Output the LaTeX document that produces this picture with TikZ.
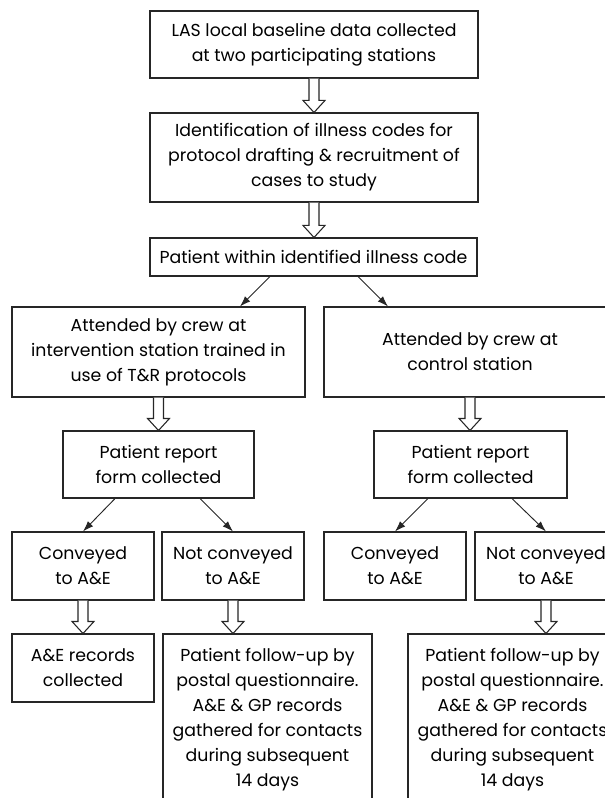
\documentclass[tikz,border=0pt]{standalone}
\usepackage{fontspec}
\setmainfont{Poppins}
\usepackage{tikz}
\usetikzlibrary{arrows.meta,calc}
\newcommand{\hollowdown}[2]{%
  \draw[hollow] ($(#1)+(-5,0)$) -- ($(#2)+(-5,-12)$) -- ($(#2)+(-11,-12)$) -- (#2) -- ($(#2)+(11,-12)$) -- ($(#2)+(5,-12)$) -- ($(#1)+(5,0)$);}

\begin{document}
\begin{tikzpicture}[x=0.75pt,y=-0.75pt,
    box/.style={draw=black!85,line width=0.8pt,align=center,inner sep=0pt,font=\fontsize{13}{18.75}\selectfont},
    hollow/.style={draw=black!85,line width=0.8pt,fill=white},
    conn/.style={draw=black!85,line width=0.7pt,-{Latex[length=8pt,width=5.5pt]}}]
            \useasboundingbox (0,0) rectangle (605,798);
            \clip (0,0) rectangle (605,798);

            \node[box,minimum width=246pt,minimum height=50.25pt] (baseline) at (314,44.5) {LAS local baseline data collected\\at two participating stations};
            \node[box,minimum width=246pt,minimum height=66.75pt] (identify) at (314,157.5) {Identification of illness codes for\\protocol drafting \& recruitment of\\cases to study};
            \node[box,minimum width=245.25pt,minimum height=28.5pt] (patient) at (313.5,257) {Patient within identified illness code};

            \node[box,minimum width=219.75pt,minimum height=67.5pt] (interv) at (158.5,352) {Attended by crew at\\intervention station trained in\\use of T\&R protocols};
            \node[box,minimum width=219pt,minimum height=67.5pt] (control) at (470,352) {Attended by crew at\\control station};

            \node[box,minimum width=143.25pt,minimum height=50.25pt] (reportL) at (158.5,464.5) {Patient report\\form collected};
            \node[box,minimum width=144.75pt,minimum height=50.25pt] (reportR) at (470.5,464.5) {Patient report\\form collected};

            \node[box,minimum width=106.5pt,minimum height=51pt] (convL) at (83,566) {Conveyed\\to A\&E};
            \node[box,minimum width=106.5pt,minimum height=51pt] (notconvL) at (233,566) {Not conveyed\\to A\&E};
            \node[box,minimum width=106.5pt,minimum height=51pt] (convR) at (395,566) {Conveyed\\to A\&E};
            \node[box,minimum width=106.5pt,minimum height=51pt] (notconvR) at (546,566) {Not conveyed\\to A\&E};

            \node[box,minimum width=106.5pt,minimum height=51pt] (recordsL) at (83,668) {A\&E records\\collected};
            \node[box,minimum width=156.75pt,minimum height=128.25pt] (followL) at (267.5,719.5) {Patient follow-up by\\postal questionnaire.\\A\&E \& GP records\\gathered for contacts\\during subsequent\\14 days};
            \node[box,minimum width=156.75pt,minimum height=128.25pt] (followR) at (512.5,719.5) {Patient follow-up by\\postal questionnaire.\\A\&E \& GP records\\gathered for contacts\\during subsequent\\14 days};

            \coordinate (tipL) at (notconvL.south |- followL.north);
            \coordinate (tipR) at (notconvR.south |- followR.north);

            \hollowdown{baseline.south}{identify.north}
            \hollowdown{identify.south}{identify.south |- patient.north}
            \hollowdown{interv.south}{interv.south |- reportL.north}
            \hollowdown{control.south}{control.south |- reportR.north}
            \hollowdown{convL.south}{recordsL.north}
            \hollowdown{notconvL.south}{tipL}
            \hollowdown{notconvR.south}{tipR}

            \draw[conn] ([xshift=-32.6pt]patient.south) to ([xshift=61.1pt]interv.north);
            \draw[conn] ([xshift=33.4pt]patient.south) to ([xshift=-61.5pt]control.north);
            \draw[conn] ([xshift=-32.6pt]reportL.south) to (convL.north);
            \draw[conn] ([xshift=31.1pt]reportL.south) to (notconvL.north);
            \draw[conn] ([xshift=-31.9pt]reportR.south) to (convR.north);
            \draw[conn] ([xshift=31.1pt]reportR.south) to (notconvR.north);
        \end{tikzpicture}
\end{document}
